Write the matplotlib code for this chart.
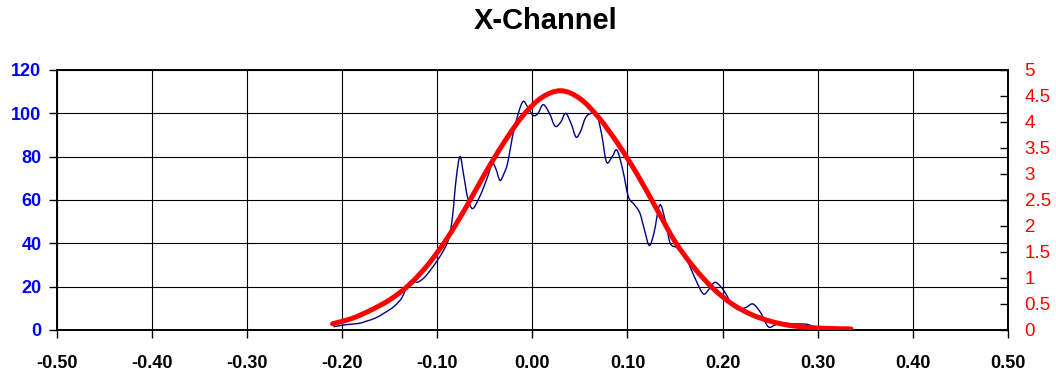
import matplotlib
matplotlib.use("Agg")
import matplotlib.pyplot as plt
import numpy as np
from matplotlib.path import Path
from matplotlib.patches import PathPatch
from matplotlib.ticker import MultipleLocator, FormatStrFormatter

plt.rcParams['font.family'] = ['Liberation Sans', 'DejaVu Sans']

# measured histogram (left axis)
x_meas = [-0.209, -0.195, -0.183, -0.175, -0.165, -0.155, -0.145, -0.137, -0.131, -0.126,
          -0.121, -0.114, -0.107, -0.100, -0.093, -0.088, -0.084, -0.080, -0.076, -0.072,
          -0.068, -0.063, -0.057, -0.051, -0.046, -0.042, -0.038, -0.034, -0.030, -0.026,
          -0.020, -0.014, -0.0095, -0.005, 0.001, 0.006, 0.0115, 0.018, 0.024, 0.030,
          0.035, 0.041, 0.046, 0.051, 0.056, 0.062, 0.068, 0.073, 0.078, 0.084,
          0.089, 0.095, 0.101, 0.107, 0.113, 0.118, 0.123, 0.128, 0.134, 0.140,
          0.145, 0.152, 0.159, 0.166, 0.173, 0.180, 0.186, 0.192, 0.198, 0.203,
          0.211, 0.218, 0.225, 0.232, 0.240, 0.248, 0.256, 0.264, 0.273, 0.282,
          0.290, 0.299, 0.315, 0.334]
y_meas = [1.5, 2.5, 3, 4, 5.5, 8, 11, 15, 21, 23,
          22, 24, 27.7, 32, 37, 42, 52, 70, 80, 71,
          61, 56, 60, 66, 72, 77, 74, 69, 72, 77,
          91, 101, 105.5, 103, 99, 100, 104, 100, 94, 96,
          100, 95, 89, 92, 98, 100, 99, 90, 77.5, 80,
          83, 74, 61.5, 58, 54, 46, 39, 45, 57.7, 50,
          40, 38, 35.5, 29, 22, 16.6, 19, 22, 20, 17,
          11, 9.5, 10.5, 12, 8, 1.5, 2.5, 3.2, 2.8, 2.8,
          2.5, 1, 0.5, 0.2]

# fitted curve (right axis)
x_fit = [-0.21, -0.19, -0.17, -0.15, -0.13, -0.11, -0.09, -0.07, -0.05, -0.03,
         -0.01, 0.01, 0.03, 0.05, 0.07, 0.09, 0.11, 0.13, 0.15, 0.17,
         0.19, 0.21, 0.23, 0.25, 0.27, 0.29, 0.31, 0.335]
y_fit = [0.12, 0.22, 0.38, 0.58, 0.86, 1.25, 1.75, 2.35, 3.0, 3.6,
         4.12, 4.47, 4.6, 4.45, 4.08, 3.58, 3.0, 2.35, 1.7, 1.2,
         0.8, 0.5, 0.3, 0.17, 0.09, 0.05, 0.03, 0.02]


def smooth_path(xs, ys):
    # Excel-style smoothed line: cubic Bezier through the points
    p = np.column_stack([xs, ys])
    verts = [p[0]]
    codes = [Path.MOVETO]
    n = len(p)
    for i in range(n - 1):
        p0 = p[i - 1] if i > 0 else p[i]
        p1, p2 = p[i], p[i + 1]
        p3 = p[i + 2] if i + 2 < n else p[i + 1]
        c1 = p1 + (p2 - p0) / 6.0
        c2 = p2 - (p3 - p1) / 6.0
        verts += [c1, c2, p2]
        codes += [Path.CURVE4] * 3
    return Path(verts, codes)


fig = plt.figure(figsize=(10.56, 3.78), dpi=100)
ax = fig.add_axes([0.0537, 0.127, 0.9008, 0.688])
ax2 = ax.twinx()

ax.add_patch(PathPatch(smooth_path(x_meas, y_meas), fill=False,
                       edgecolor='#000080', lw=1.0, zorder=3))
ax2.add_patch(PathPatch(smooth_path(x_fit, y_fit), fill=False,
                        edgecolor='#ff0000', lw=3.6, capstyle='round', zorder=4))

ax.set_xlim(-0.5, 0.5)
ax.set_ylim(0, 120)
ax2.set_ylim(0, 5)

ax.xaxis.set_major_locator(MultipleLocator(0.1))
ax.xaxis.set_major_formatter(FormatStrFormatter('%.2f'))
ax.yaxis.set_major_locator(MultipleLocator(20))
ax2.yaxis.set_major_locator(MultipleLocator(0.5))
ax2.yaxis.set_major_formatter(lambda v, p: ('%g' % v))

ax.grid(True, color='black', lw=0.8)
ax.set_axisbelow(True)

for sp in ax.spines.values():
    sp.set_linewidth(1.2)
for sp in ax2.spines.values():
    sp.set_linewidth(1.2)

ax.tick_params(axis='x', direction='out', length=6, width=1, pad=12,
               labelsize=13, labelcolor='black')
ax.tick_params(axis='y', direction='out', length=6, width=1, pad=5,
               labelsize=13, labelcolor='#0000ff')
for lab in ax.get_xticklabels() + ax.get_yticklabels():
    lab.set_fontweight('bold')
ax2.tick_params(axis='y', direction='in', length=6, width=1, pad=12,
                labelsize=13.5, labelcolor='#ff0000')

fig.text(0.517, 0.944, 'X-Channel', ha='center', va='center',
         fontsize=21, fontweight='bold')

fig.savefig('out.png', dpi=100)
